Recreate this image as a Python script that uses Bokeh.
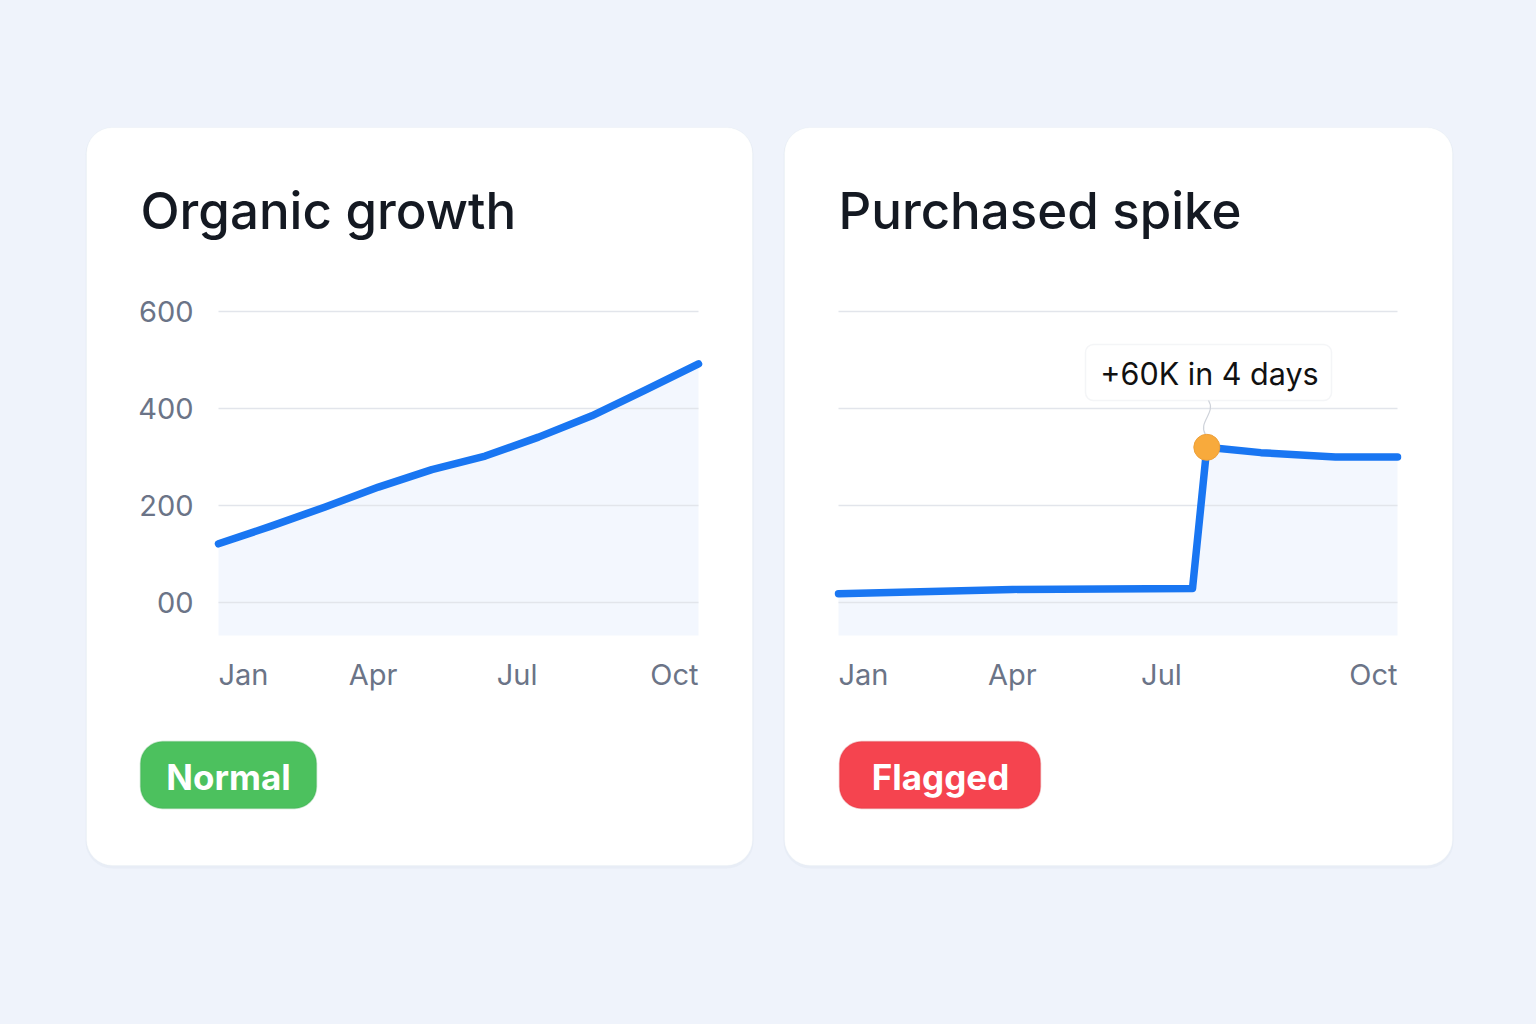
from bokeh.plotting import figure
from bokeh.models import Range1d, BoxAnnotation, ColumnDataSource
from bokeh.core.properties import value
from bokeh.embed import file_html
from bokeh.resources import INLINE

# data
month_labels = ["Jan", "Apr", "Jul", "Oct"]
month_idx = list(range(10))  # Jan .. Oct
organic = [121, 158, 197, 238, 274, 302, 341, 385, 438, 492]
spike_x = [0, 2.8, 5.7, 5.93, 6.8, 8.0, 9]
spike_y = [18, 27, 29, 320, 309, 300, 300]
grid_values = [0, 200, 400, 600]
y_tick_labels = ["00", "200", "400", "600"]
left_ticks = [0, 2.9, 5.6, 9]
right_ticks = [0, 2.8, 5.2, 9]
spike_note = "+60K in 4 days"

W, H = 1520, 1008
FONT = value("Inter")
BLUE = "#1976f2"


def data_range(v0, p0, v1, p1, lo, hi):
    # range whose start sits at pixel lo and end at pixel hi
    k = (p1 - p0) / (v1 - v0)
    return Range1d(v0 + (lo - p0) / k, v0 + (hi - p0) / k)


p = figure(width=W, height=H, x_range=Range1d(0, W), y_range=Range1d(H, 0),
           output_backend="svg", toolbar_location=None, min_border=0)
p.axis.visible = False
p.grid.visible = False
p.outline_line_color = None
p.background_fill_color = "#eff3fb"
p.border_fill_color = "#eff3fb"

p.extra_x_ranges = {"lx": data_range(0, 218, 9, 698, 0, W),
                    "rx": data_range(0, 838, 9, 1397, 0, W)}
p.extra_y_ranges = {"cy": data_range(0, 602, 600, 311, H, 0)}

# cards (soft shadow + white body)
for left, right in [(86, 752), (784, 1452)]:
    p.add_layout(BoxAnnotation(left=left - 1, right=right + 1, top=127, bottom=868,
                               border_radius=27, fill_color="#e3e9f3", fill_alpha=0.6,
                               line_color=None, level="underlay"))
    p.add_layout(BoxAnnotation(left=left, right=right, top=127, bottom=865, border_radius=26,
                               fill_color="white", fill_alpha=1, line_color="#e9edf3",
                               line_width=1, level="underlay"))

# titles
p.text(x=[140, 838], y=[210, 210], text=["Organic growth", "Purchased spike"],
       text_font=value("Inter Medium"), text_font_size="51px", text_color="#141922",
       text_baseline="middle", text_align="left")

for xr, xs, ys, ticks in [("lx", month_idx, organic, left_ticks),
                          ("rx", spike_x, spike_y, right_ticks)]:
    p.varea(x=xs, y1=[-68] * len(xs), y2=ys,
            fill_color="#f3f7fe", x_range_name=xr, y_range_name="cy")
    p.segment(x0=[0] * 4, x1=[9] * 4, y0=grid_values, y1=grid_values,
              line_color="#e2e5eb", line_width=1.5, x_range_name=xr, y_range_name="cy")
    p.line(xs, ys, line_color=BLUE, line_width=7.5, line_cap="round", line_join="round",
           x_range_name=xr, y_range_name="cy")
    src = ColumnDataSource(dict(x=ticks, y=[674] * 4, t=month_labels,
                                a=["left", "center", "center", "right"]))
    p.text(x="x", y="y", text="t", text_align="a", source=src, text_baseline="middle",
           text_font=FONT, text_font_size="29px", text_color="#6b7487", x_range_name=xr)

# y tick labels (left chart only)
p.text(x=[193] * 4, y=grid_values, text=y_tick_labels, y_range_name="cy",
       text_align="right", text_baseline="middle", text_font=FONT,
       text_font_size="29px", text_color="#6b7487")

# spike annotation
p.add_layout(BoxAnnotation(left=1085, right=1331, top=344, bottom=400, border_radius=8,
                           fill_color="white", fill_alpha=1, line_color="#dadee5",
                           line_width=1.5, level="underlay"))
p.text(x=[1209], y=[373], text=[spike_note], text_align="center", text_baseline="middle",
       text_font=FONT, text_font_size="30.5px", text_color="#111111")
p.bezier(x0=[1208], y0=[400], x1=[1205], y1=[434], cx0=[1216], cy0=[412],
         cx1=[1197], cy1=[422], line_color="#cfd3da", line_width=1.2)
p.scatter(x=[spike_x[3]], y=[spike_y[3]], size=26, fill_color="#f8aa3c",
          line_color="#eda03a", line_width=1, x_range_name="rx", y_range_name="cy")

# badges
for left, right, fill, edge, label, cx in [(140, 316, "#4cc15e", "#3aa94f", "Normal", 228),
                                          (839, 1040, "#f5444f", "#d8353f", "Flagged", 940)]:
    p.add_layout(BoxAnnotation(left=left, right=right, top=741, bottom=808, border_radius=22,
                               fill_color=fill, fill_alpha=1, line_color=edge, line_width=1.5,
                               level="underlay"))
    p.text(x=[cx], y=[776], text=[label], text_align="center", text_baseline="middle",
           text_font=FONT, text_font_size="35px", text_font_style="bold", text_color="white")

html = file_html(p, INLINE)
html = html.replace("<head>", "<head><style>body{background:#eff3fb}</style>", 1)
open("out.html", "w").write(html)
